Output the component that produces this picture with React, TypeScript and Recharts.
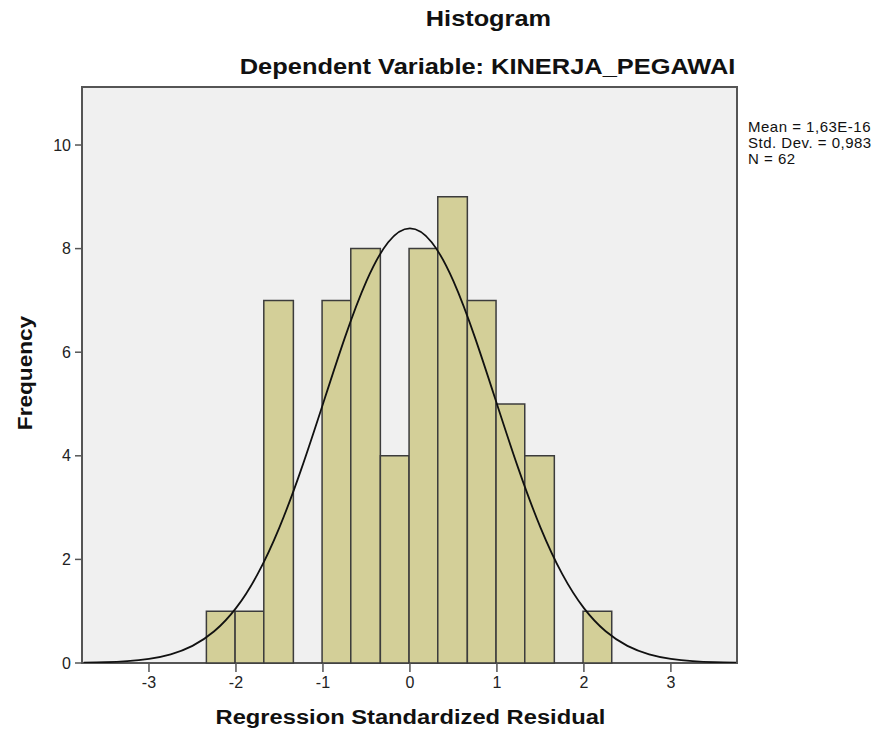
import { ComposedChart, Line, XAxis, YAxis, ReferenceArea } from 'recharts';

// histogram bins (left edge, right edge, frequency)
const binLeft = [-2.34, -2.01, -1.68, -1.34, -1.01, -0.68, -0.34, -0.01, 0.32, 0.66, 0.99, 1.32, 1.66, 1.99];
const binRight = [-2.01, -1.68, -1.34, -1.01, -0.68, -0.34, -0.01, 0.32, 0.66, 0.99, 1.32, 1.66, 1.99, 2.32];
const frequency = [1, 1, 7, 0, 7, 8, 4, 8, 9, 7, 5, 4, 0, 1];

// normal curve
const curveX = [
  -3.75, -3.5, -3.25, -3, -2.75, -2.5, -2.25, -2, -1.75, -1.5, -1.25, -1, -0.75, -0.5, -0.25, 0,
  0.25, 0.5, 0.75, 1, 1.25, 1.5, 1.75, 2, 2.25, 2.5, 2.75, 3, 3.25, 3.5, 3.75,
];
const curveY = [
  0.006, 0.015, 0.036, 0.08, 0.168, 0.331, 0.612, 1.059, 1.72, 2.619, 3.738, 5.001, 6.272, 7.372, 8.123, 8.39,
  8.123, 7.372, 6.272, 5.001, 3.738, 2.619, 1.72, 1.059, 0.612, 0.331, 0.168, 0.08, 0.036, 0.015, 0.006,
];

const xTicks = [-3, -2, -1, 0, 1, 2, 3];
const yTicks = [0, 2, 4, 6, 8, 10];
const statsLines = ['Mean = 1,63E-16', 'Std. Dev. = 0,983', 'N = 62'];

const X_MIN = -3.77;
const X_MAX = 3.76;
const Y_MAX = 11.12;

const font = "Arial, 'Liberation Sans', sans-serif";

const curveData = curveX.map((x, i) => ({ x, y: curveY[i] }));

// SPSS text is drawn a bit wider than the plain font
const wide = (scale: number): React.CSSProperties => ({
  display: 'inline-block',
  transform: `scaleX(${scale})`,
});

export default function App() {
  return (
    <div style={{ position: 'relative', width: 888, height: 739, margin: -8, background: '#fff', fontFamily: font }}>
      <div style={{
        position: 'absolute', left: 0, width: 976, top: 6, textAlign: 'center',
        fontSize: 22, fontWeight: 'bold', color: '#111'
      }}>
        <span style={wide(1.15)}>Histogram</span>
      </div>
      <div style={{
        position: 'absolute', left: 0, width: 976, top: 54, textAlign: 'center',
        fontSize: 22, fontWeight: 'bold', color: '#111', whiteSpace: 'nowrap'
      }}>
        <span style={wide(1.155)}>Dependent Variable: KINERJA_PEGAWAI</span>
      </div>
      <div style={{
        position: 'absolute', left: 748, top: 119, fontSize: 15, lineHeight: '16px',
        letterSpacing: 0.5, color: '#111'
      }}>
        {statsLines.map((s) => <div key={s}>{s}</div>)}
      </div>
      <div style={{
        position: 'absolute', left: 0, width: 820, top: 706, textAlign: 'center',
        fontSize: 20, fontWeight: 'bold', color: '#111', whiteSpace: 'nowrap'
      }}>
        <span style={wide(1.185)}>Regression Standardized Residual</span>
      </div>
      <div style={{
        position: 'absolute', left: 25, top: 373,
        transform: 'translate(-50%, -50%) rotate(-90deg) scaleX(1.13)',
        fontSize: 20, fontWeight: 'bold', color: '#111', whiteSpace: 'nowrap'
      }}>
        Frequency
      </div>
      <ComposedChart
        width={888}
        height={739}
        data={curveData}
        margin={{ top: 87, right: 151, bottom: 46, left: 42 }}
        style={{ position: 'absolute', left: 0, top: 0 }}
      >
        <XAxis
          dataKey="x"
          type="number"
          domain={[X_MIN, X_MAX]}
          ticks={xTicks}
          allowDataOverflow
          height={30}
          tickSize={9}
          tickMargin={5}
          axisLine={false}
          tickLine={{ stroke: '#555', strokeWidth: 1.5 }}
          tick={{ fontSize: 16, fill: '#222', fontFamily: font }}
        />
        <YAxis
          type="number"
          domain={[0, Y_MAX]}
          ticks={yTicks}
          allowDataOverflow
          width={40}
          tickSize={7}
          tickMargin={4}
          axisLine={false}
          tickLine={{ stroke: '#555', strokeWidth: 1.5 }}
          tick={{ fontSize: 16, fill: '#222', fontFamily: font }}
        />
        <ReferenceArea
          x1={X_MIN}
          x2={X_MAX}
          y1={0}
          y2={Y_MAX}
          fill="#f0f0f0"
          fillOpacity={1}
          stroke="#555"
          strokeWidth={2}
        />
        {frequency.map((f, i) =>
          f > 0 ? (
            <ReferenceArea
              key={i}
              x1={binLeft[i]}
              x2={binRight[i]}
              y1={0}
              y2={f}
              fill="#d3cf98"
              fillOpacity={1}
              stroke="#3c3c3c"
              strokeWidth={1.5}
            />
          ) : null
        )}
        <Line
          dataKey="y"
          type="natural"
          stroke="#111"
          strokeWidth={1.8}
          dot={false}
          activeDot={false}
          isAnimationActive={false}
        />
      </ComposedChart>
    </div>
  );
}
